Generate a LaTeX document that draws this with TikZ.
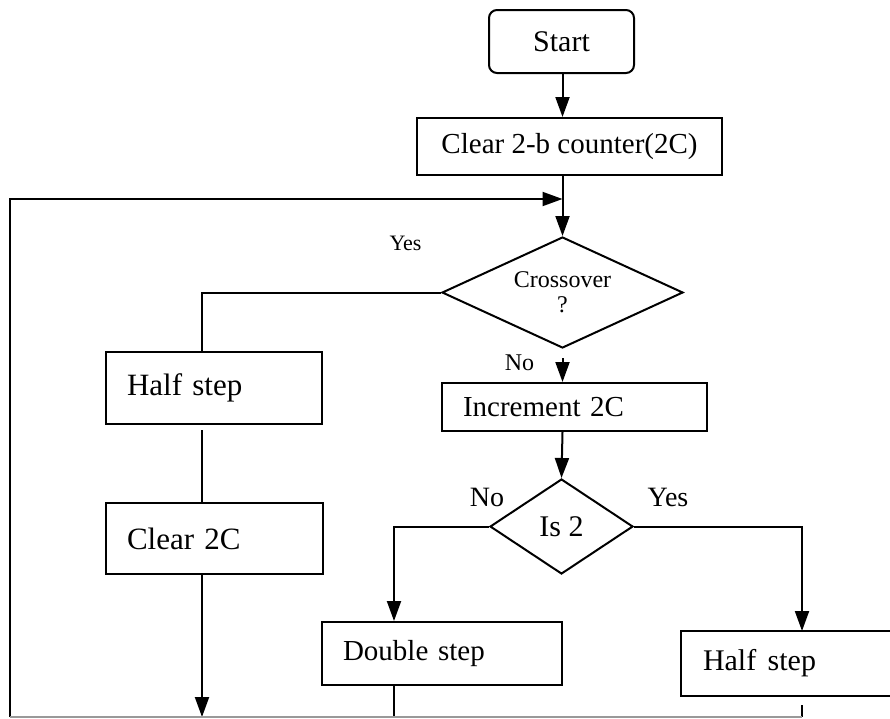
\documentclass[tikz,border=0pt]{standalone}
\usepackage{fontspec}
\setmainfont{Liberation Serif}
\usetikzlibrary{arrows.meta,shapes.geometric,calc}
\newcommand\fsz[2]{\fontsize{#1}{#2}\selectfont}
\begin{document}
\begin{tikzpicture}[x=1pt,y=-1pt,
  ln/.style={line width=2pt},
  arr/.style={ln,-{Triangle[length=20pt,width=14pt]}},
  procbox/.style={draw,ln,rectangle,inner ysep=0pt,inner xsep=21pt,align=left,font=\fsz{29}{33}},
  decision/.style={draw,ln,diamond,inner sep=0pt,align=center},
  lbl/.style={inner sep=0pt}
]
\useasboundingbox (0,0) rectangle (890,718);
\clip (0,0) rectangle (890,718);

% column coordinates
\coordinate (lx) at (202,0);
\coordinate (nx) at (394,0);
\coordinate (yx) at (802,0);
\coordinate (sp) at (562.5,0);
\coordinate (bot) at (0,717);
\coordinate (fbL) at (10,717);
\coordinate (fbT) at (562.5,199);

% nodes
\node[draw,ln,rounded corners=8pt,minimum width=145pt,minimum height=63pt,inner sep=0pt,font=\fsz{30}{34}] (start) at (561.5,41.5) {Start};
\node[draw,ln,minimum width=305pt,minimum height=57pt,inner sep=0pt,font=\fsz{29}{33}] (clear) at (569.5,146.5) {Clear 2-b counter(2C)};
\node[decision,aspect=2.17,minimum width=241pt,minimum height=111pt,font=\fsz{24}{25}] (cross) at (562.5,292.5) {Crossover\\?};
\node[procbox,text width=223pt,minimum height=48pt] (inc) at (574.5,407) {Increment 2C};
\node[decision,aspect=1.5,minimum width=143pt,minimum height=95pt,font=\fsz{30}{34}] (is2) at (561.5,526.5) {Is 2};
\node[procbox,text width=174pt,minimum height=72pt,font=\fsz{31}{35}] (half1) at (214,388) {Half step};
\node[procbox,text width=175pt,minimum height=71pt,font=\fsz{31}{35}] (clr2) at (214.5,538.5) {Clear 2C};
\node[procbox,text width=198pt,minimum height=63pt] (dbl) at (442,653.5) {Double step};
\node[procbox,draw=none,text width=230pt,minimum height=63pt,font=\fsz{30}{34}] (half2) at (818,663.5) {Half\hspace{0.38em}step};
\draw[ln] (half2.north east) -- (half2.north west) -- (half2.south west) -- (half2.south east);

% labels
\node[lbl,font=\fsz{22}{24}] (yes1) at (405.5,243) {Yes};
\node[lbl,font=\fsz{24}{26}] (no1) at (519.5,363) {No};
\node[lbl,font=\fsz{28}{30}] (no2) at (487,497) {No};
\node[lbl,font=\fsz{28}{30}] (yes2) at (668,497) {Yes};

% connectors
\draw[arr] (sp |- start.south) -- (sp |- clear.north);
\draw[arr] (sp |- clear.south) -- (cross.north);
\draw[arr] (fbL) |- (fbT);
\draw[ln] (cross.west) -| (lx |- half1.north);
\draw[arr] ($(cross.south)+(0,9)$) -- (sp |- inc.north);
\draw[ln] ($(lx |- half1.south)+(0,5)$) -- (lx |- clr2.north);
\draw[arr] (lx |- clr2.south) -- (lx |- bot);
\draw[arr] (sp |- inc.south) -- (is2.north);
\draw[arr] (is2.west) -| (nx |- dbl.north);
\draw[arr] (is2.east) -| (yx |- half2.north);
\draw[ln] (nx |- dbl.south) -- (nx |- bot);
\draw[ln] ($(yx |- half2.south)+(0,9)$) -- (yx |- bot);
\draw[ln,black!40] (fbL) -- (yx |- bot);
\end{tikzpicture}
\end{document}
